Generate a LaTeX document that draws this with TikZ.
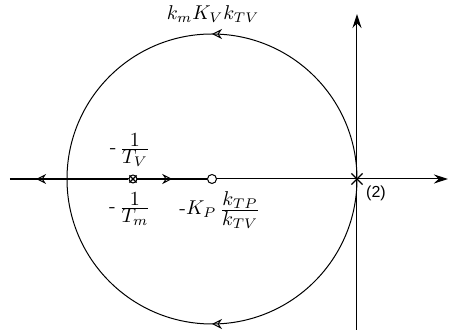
\documentclass[tikz,border=0pt]{standalone}
\usepackage{amsmath}
\usepackage{fontspec}
\newfontfamily\tagfont{Liberation Sans}
\usetikzlibrary{arrows.meta,decorations.markings,shapes.misc}
\newcommand{\tfr}[2]{\frac{\textstyle #1}{\textstyle #2}}

\begin{document}
\begin{tikzpicture}[x=0.5pt,y=0.5pt,>={Stealth[length=7pt,width=4.5pt]},
axis/.style={line width=0.5pt},
branch/.style={line width=1pt},
flow/.style={postaction={decorate},decoration={markings,mark=at position #1 with {\arrow[line width=0.5pt]{Stealth[open,length=5pt,width=5pt]}}}},
pole/.style={cross out,draw,line width=0.6pt,inner sep=0pt,minimum size=#1},
pole/.default=5pt,
zero/.style={circle,draw,fill=white,line width=0.5pt,inner sep=0pt,minimum size=#1},
zero/.default=4.5pt]
\useasboundingbox (-357,-157) rectangle (95,179);
% axes
\coordinate (o) at (0,0);
\coordinate (west) at (-347,0);
\coordinate (east) at (91,0);
\coordinate (south) at (0,-151);
\coordinate (north) at (0,165);
\draw[axis,->] (west) -- (east);
\draw[axis,->] (south) -- (north);
% poles and zero
\node[zero] (z) at (-145,0) {};
\node[zero=4pt] (pv) at (-224,0) {};
\node[pole=3pt] at (pv) {};
\node[pole] (p) at (o) {};
% root locus
\draw[branch,flow=0.78] (pv.west) -- (west);
\draw[branch,flow=0.5] (pv.east) -- (z.west);
\draw[axis,flow=0.5] (o) arc[start angle=0,end angle=180,radius=145];
\draw[axis,flow=0.5] (o) arc[start angle=0,end angle=-180,radius=145];
% labels
\node (gain) at (-144,165) {$k_mK_Vk_{TV}$};
\node (tv) at (-227,29) {$\mbox{-}\,\tfr{1}{T_V}$};
\node (tm) at (-227,-30) {$\mbox{-}\,\tfr{1}{T_m}$};
\node (kp) at (-137,-31) {$\mbox{-}K_P\,\tfr{k_{TP}}{k_{TV}}$};
\node[font=\tagfont\footnotesize] (mult) at (19,-14) {(2)};
\end{tikzpicture}
\end{document}
